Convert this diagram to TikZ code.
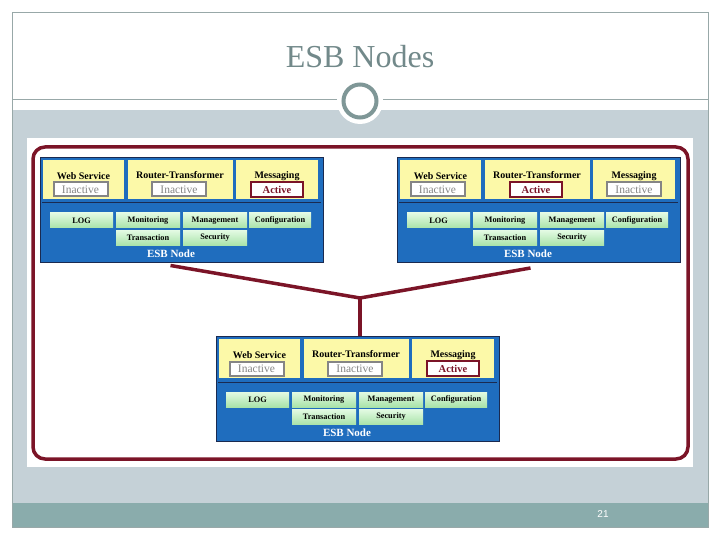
\documentclass[tikz,border=0pt]{standalone}
\usepackage{fontspec}
\setmainfont{Liberation Serif}
\newfontfamily\numfont{Liberation Sans}
\definecolor{slidegray}{HTML}{C5D1D7}
\definecolor{bandteal}{HTML}{8AACAC}
\definecolor{framegray}{HTML}{98A8A8}
\definecolor{titlegray}{HTML}{72898A}
\definecolor{ringgray}{HTML}{7F9797}
\definecolor{esbred}{HTML}{7B1427}
\definecolor{esbblue}{HTML}{1F6DBE}
\definecolor{esbnavy}{HTML}{1A2A50}
\definecolor{esbyellow}{HTML}{FCF9A8}
\definecolor{greentop}{HTML}{E2FAE2}
\definecolor{greenbot}{HTML}{A9E3A9}
\definecolor{inactgray}{HTML}{858585}
\tikzset{
  esb/.style={draw=esbnavy, line width=1pt, fill=esbblue, minimum width=283pt, minimum height=105pt, inner sep=0pt, anchor=north west},
  ybox/.style={fill=esbyellow, inner sep=0pt, anchor=north west},
  gbox/.style={top color=greentop, bottom color=greenbot, inner sep=0pt, minimum height=15pt, font=\fontsize{8.3}{9}\selectfont\bfseries},
  ttl/.style={inner sep=0pt, font=\fontsize{10}{11}\selectfont\bfseries},
  inact/.style={draw=inactgray, line width=2pt, fill=white, text=inactgray, minimum width=54pt, minimum height=14pt, inner sep=0pt, font=\fontsize{11.5}{12}\selectfont},
  act/.style={draw=esbred, line width=2pt, fill=white, text=esbred, minimum width=52pt, minimum height=15pt, inner sep=0pt, font=\fontsize{10.5}{11}\selectfont\bfseries},
  conn/.style={draw=esbred, line width=3.5pt},
}
% #1 name, #2 x, #3 y, #4/#5/#6 styles, #7/#8/#9 texts
\newcommand\esbunit[9]{%
  \begin{scope}[shift={(#2,#3)}]
    \node[esb] (#1) at (0,0) {};
    \node[ybox, minimum width=81pt, minimum height=39pt] (#1ws) at (3,3) {};
    \node[ybox, minimum width=105pt, minimum height=39pt] (#1rt) at (88,3) {};
    \node[ybox, minimum width=82pt, minimum height=39pt] (#1ms) at (196,3) {};
    \draw[esbnavy, line width=1pt] (2,46) -- (281,46);
    \node[ttl] (#1wst) at (43.5,19) {Web Service};
    \node[ttl] (#1rtt) at (140,18) {Router-Transformer};
    \node[ttl] (#1mst) at (237,19) {Messaging};
    \node[#4] (#1wss) at (40.5,32.5) {#7};
    \node[#5] (#1rts) at (139,32.5) {#8};
    \node[#6] (#1mss) at (237,32.5) {#9};
    \node[gbox, minimum width=63pt] (#1log) at (41.5,63.5) {LOG};
    \node[gbox, minimum width=64pt] (#1mon) at (108,63.5) {Monitoring};
    \node[gbox, minimum width=64pt] (#1mgt) at (175,63.5) {Management};
    \node[gbox, minimum width=62pt] (#1cfg) at (240,63.5) {Configuration};
    \node[gbox, minimum width=64pt] (#1trn) at (108,81) {Transaction};
    \node[gbox, minimum width=64pt] (#1sec) at (175,81) {Security};
    \node[text=white, inner sep=0pt, font=\fontsize{11}{12}\selectfont\bfseries] (#1lbl) at (131,97) {ESB Node};
  \end{scope}}
\begin{document}
\begin{tikzpicture}[x=1pt, y=-1pt]
  \useasboundingbox (0,0) rectangle (720,540);
  \fill[white] (0,0) rectangle (720,540);
  % slide frame
  \fill[slidegray] (12,110) rectangle (708,503);
  \fill[bandteal] (12,503) rectangle (708,527);
  \draw[framegray, line width=0.8pt] (12,12) rectangle (708,527);
  \draw[framegray, line width=1pt] (12,100) -- (708,100);
  \fill[white] (360,101) circle (23);
  \draw[ringgray, line width=4pt] (360,101) circle (16.5);
  \node[text=titlegray, font=\fontsize{32}{34}\selectfont] (title) at (360,57) {ESB Nodes};
  \node[text=white, font=\numfont\fontsize{10}{11}\selectfont] (pagenum) at (603,514) {21};
  % picture area
  \fill[white] (27,138) rectangle (693,467);
  \draw[esbred, line width=3.5pt, rounded corners=12pt] (33,147) rectangle (688,459);
  % ESB nodes
  \esbunit{TL}{40}{157}{inact}{inact}{act}{Inactive}{Inactive}{Active}
  \esbunit{TR}{397}{157}{inact}{act}{inact}{Inactive}{Active}{Inactive}
  \esbunit{B}{216}{336}{inact}{inact}{act}{Inactive}{Inactive}{Active}
  % connectors
  \coordinate (J) at (360,298);
  \coordinate (TLend) at ([xshift=-11.5pt, yshift=-2.5pt]TL.south);
  \coordinate (TRend) at ([xshift=-8.5pt, yshift=-5pt]TR.south);
  \draw[conn] (TLend) -- (J) -- (TRend);
  \draw[conn] (J) -- (J |- B.north);
\end{tikzpicture}
\end{document}
